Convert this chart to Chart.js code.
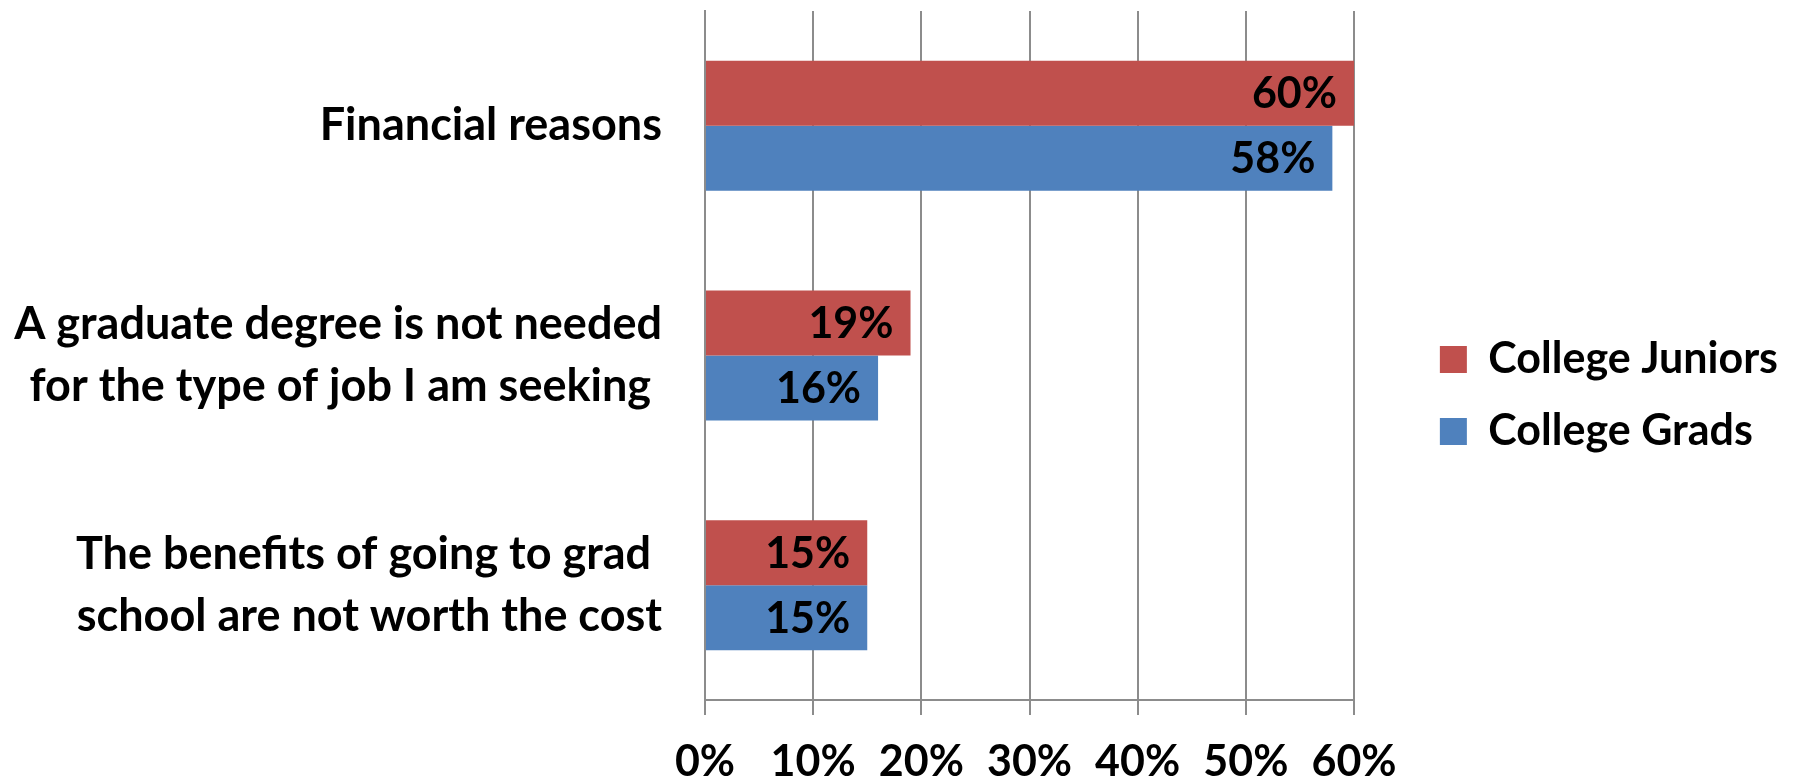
<!DOCTYPE html>
<html>
<head>
<meta charset="utf-8">
<script src="https://cdn.jsdelivr.net/npm/chart.js@4"></script>
<style>
  body { margin: 0; background: #fff; }
  #wrap { width: 1799px; height: 780px; }
</style>
</head>
<body>
<div id="wrap"><canvas id="chart"></canvas></div>
<script>
const categories = [
  "Financial reasons",
  ["A graduate degree is not needed", "for the type of job I am seeking "],
  ["The benefits of going to grad ", "school are not worth the cost"],
];
const juniors = [60, 19, 15];
const grads = [58, 16, 15];
const seriesNames = ["College Juniors", "College Grads"];
const xTicks = [0, 10, 20, 30, 40, 50, 60];

const FONT = "Lato";
const gridGray = "#8c8c8c";

// draws the "60%" style numbers inside the end of each bar
const barLabels = {
  id: "barLabels",
  afterDatasetsDraw(chart) {
    const ctx = chart.ctx;
    ctx.save();
    ctx.font = "bold 43px " + FONT;
    ctx.fillStyle = "#000";
    ctx.textAlign = "right";
    ctx.textBaseline = "middle";
    chart.data.datasets.forEach((ds, i) => {
      chart.getDatasetMeta(i).data.forEach((bar, j) => {
        ctx.fillText(ds.data[j] + "%", bar.x - 17, bar.y + 1);
      });
    });
    ctx.restore();
  },
};

function noPad(s) {
  s.paddingTop = 0;
  s.paddingBottom = 0;
  s.paddingLeft = 0;
  s.paddingRight = 0;
}

const ctx = document.getElementById("chart").getContext("2d");
const chart = new Chart(ctx, {
  type: "bar",
  data: {
    labels: categories,
    datasets: [
      {
        label: seriesNames[0],
        data: juniors,
        backgroundColor: "#c0504d",
        borderWidth: 0,
      },
      {
        label: seriesNames[1],
        data: grads,
        backgroundColor: "#4f81bd",
        borderWidth: 0,
      },
    ],
  },
  options: {
    indexAxis: "y",
    responsive: true,
    maintainAspectRatio: false,
    animation: false,
    layout: { padding: { top: 11, right: 11, left: 0, bottom: 0 } },
    datasets: {
      bar: { categoryPercentage: 0.566, barPercentage: 1.0 },
    },
    scales: {
      x: {
        min: 0,
        max: 60,
        afterBuildTicks: (s) => { s.ticks = xTicks.map((v) => ({ value: v })); },
        afterFit: (s) => { s.height = 80; noPad(s); },
        grid: { color: gridGray, lineWidth: 2, tickLength: 15 },
        border: { color: gridGray, width: 2 },
        ticks: {
          padding: 26,
          color: "#000",
          font: { family: FONT, weight: "bold", size: 43, lineHeight: 1 },
          callback: (v) => v + "%",
        },
      },
      y: {
        afterFit: (s) => { s.width = 705; noPad(s); },
        grid: { display: false, drawTicks: false },
        border: { color: gridGray, width: 2 },
        ticks: {
          padding: 43,
          color: "#000",
          font: { family: FONT, weight: "bold", size: 45, lineHeight: 1.38 },
        },
      },
      // empty spacer axis: keeps the gap between the plot and the legend
      gap: {
        type: "category",
        axis: "y",
        position: "right",
        grid: { display: false },
        border: { display: false },
        ticks: { display: false },
        afterFit: (s) => {
          s.width = Math.max(0, s.chart.width - 11 - s.chart.legend.width - 1354);
          noPad(s);
        },
      },
    },
    plugins: {
      legend: {
        position: "right",
        maxWidth: 460,
        labels: {
          boxWidth: 27,
          boxHeight: 27,
          padding: 29,
          color: "#000",
          font: { family: FONT, weight: "bold", size: 43 },
        },
      },
      tooltip: { enabled: false },
    },
  },
  plugins: [barLabels],
});
</script>
</body>
</html>
